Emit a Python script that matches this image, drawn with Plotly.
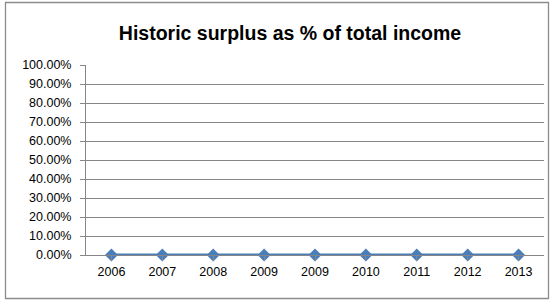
import plotly.graph_objects as go

categories = ["2006", "2007", "2008", "2009", "2009", "2010", "2011", "2012", "2013"]
surplus_pct = [0, 0, 0, 0, 0, 0, 0, 0, 0]
y_ticks = [0, 0.1, 0.2, 0.3, 0.4, 0.5, 0.6, 0.7, 0.8, 0.9, 1.0]

W, H = 555, 301
L, R, T, B = 86, 11, 65, 46
pw, ph = W - L - R, H - T - B

idx = list(range(len(categories)))

fig = go.Figure()
fig.add_trace(go.Scatter(
    x=idx, y=surplus_pct, mode="lines+markers",
    line=dict(color="#4A7EBB", width=3),
    marker=dict(symbol="diamond", size=10, color="#4A7EBB"),
    cliponaxis=False,
))

def px_x(p):
    return (p - L) / pw
def px_y(p):
    return (H - B - p) / ph

fig.add_shape(type="rect", xref="paper", yref="paper",
              x0=px_x(5.5), x1=px_x(548.5), y0=px_y(298.5), y1=px_y(2.5),
              line=dict(color="#8C8C8C", width=1.3), layer="below")

fig.update_layout(
    width=W, height=H,
    margin=dict(l=L, r=R, t=T, b=B, autoexpand=False),
    paper_bgcolor="white", plot_bgcolor="white",
    showlegend=False,
    title=dict(text="<b>Historic surplus as % of total income</b>",
               x=290 / W, xref="container", xanchor="center",
               y=1 - 33 / H, yanchor="middle", automargin=False,
               font=dict(family="Liberation Sans, Arial", size=19.5, color="#000000")),
    font=dict(family="Liberation Sans, Arial", size=12.5, color="#000000"),
)
fig.update_xaxes(
    range=[-0.5, len(categories) - 0.5],
    tickvals=idx, ticktext=categories, automargin=False,
    showgrid=False, showline=True, linecolor="#868686", linewidth=1,
    zeroline=False, tickfont=dict(size=12.5),
    tickson="boundaries", ticks="outside", ticklen=5, tickcolor="#868686",
)
fig.update_yaxes(
    range=[0, 1], tickvals=y_ticks, tickformat=".2%", automargin=False,
    showgrid=True, gridcolor="#868686", gridwidth=1,
    showline=True, linecolor="#868686", linewidth=1,
    ticks="outside", ticklen=5, tickcolor="#868686",
    ticklabelstandoff=6,
    zeroline=False, tickfont=dict(size=12.5),
)
fig.write_html("out.html", config={"displayModeBar": False},
               post_script="document.body.style.margin='0';document.body.style.overflow='hidden';")
